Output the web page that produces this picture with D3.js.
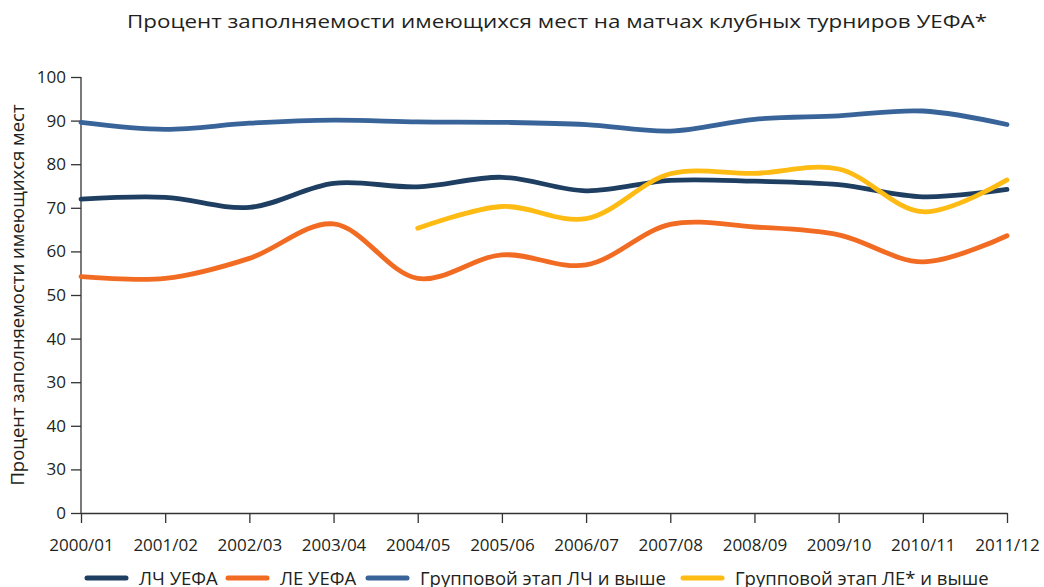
<!DOCTYPE html>
<html><head><meta charset="utf-8">
<script src="https://cdn.jsdelivr.net/npm/d3@7"></script>
<style>
html,body{margin:0;padding:0;background:#fff;}
svg{display:block;font-family:"Open Sans","Noto Sans",sans-serif;}
</style></head>
<body><svg id="c" width="1044" height="587"></svg>
<script>
const categories = ["2000/01","2001/02","2002/03","2003/04","2004/05","2005/06","2006/07","2007/08","2008/09","2009/10","2010/11","2011/12"];
const lcUefa   = [72.0, 72.4, 70.1, 75.6, 74.8, 77.0, 73.9, 76.3, 76.1, 75.3, 72.5, 74.2];
const leUefa   = [54.2, 53.8, 58.4, 66.3, 53.8, 59.2, 56.9, 66.2, 65.6, 63.8, 57.6, 63.6];
const lcGroup  = [89.6, 88.0, 89.4, 90.1, 89.7, 89.6, 89.1, 87.6, 90.3, 91.1, 92.2, 89.1];
const leGroup  = [null, null, null, null, 65.3, 70.3, 67.5, 77.8, 77.9, 78.9, 69.1, 76.4];
const yTickValues = [0,10,20,30,40,50,60,70,80,90,100];
const yTickLabels = ["0","30","40","30","40","50","60","70","80","90","100"];
const seriesNames = ["ЛЧ УЕФА","ЛЕ УЕФА","Групповой этап ЛЧ и выше","Групповой этап ЛЕ* и выше"];
const seriesColors = ["#1e3f62","#f26b22","#386499","#fdbb13"];
const titleText = "Процент заполняемости имеющихся мест на матчах клубных турниров УЕФА*";
const yTitle = "Процент заполняемости имеющихся мест";

const seriesData = [lcUefa, leUefa, lcGroup, leGroup];
const svg = d3.select("#c");
const x = d3.scalePoint().domain(categories).range([81, 1007]);
const y = d3.scaleLinear().domain([0,100]).range([513, 77]);
const txt = "#231f20";

svg.append("text").attr("x", 557).attr("y", 28).attr("text-anchor","middle")
  .attr("font-size", 18.5).attr("fill", txt).attr("textLength", 860).attr("lengthAdjust","spacingAndGlyphs")
  .text(titleText);

svg.append("text").attr("transform","translate(24,295) rotate(-90)").attr("text-anchor","middle")
  .attr("font-size", 18.5).attr("fill", txt).text(yTitle);

const yAxis = svg.append("g").attr("transform","translate(81,0)")
  .call(d3.axisLeft(y).tickValues(yTickValues).tickSize(10).tickPadding(5)
    .tickFormat((d,i)=>yTickLabels[i]));
const xAxis = svg.append("g").attr("transform","translate(0,513)")
  .call(d3.axisBottom(x).tickSize(10).tickPadding(16).tickSizeOuter(0));
[yAxis, xAxis].forEach(g=>{
  g.select(".domain").attr("stroke","#333").attr("stroke-width",1.3);
  g.selectAll(".tick line").attr("stroke","#333").attr("stroke-width",1.3);
  g.selectAll(".tick text").attr("font-size",17).attr("fill",txt).attr("font-family","'Open Sans','Noto Sans',sans-serif");
});
yAxis.select(".domain").attr("d","M0,"+y(100)+"V"+y(0));

const line = d3.line()
  .defined(d=>d.v!=null)
  .x(d=>x(d.c)).y(d=>y(d.v))
  .curve(d3.curveCatmullRom.alpha(0.5));

const order = [2,1,0,3];
order.forEach(si=>{
  const pts = categories.map((c,i)=>({c, v: seriesData[si][i]}));
  svg.append("path").attr("d", line(pts)).attr("fill","none")
    .attr("stroke", seriesColors[si]).attr("stroke-width",4.8)
    .attr("stroke-linecap","round").attr("stroke-linejoin","round");
});

const legendX = [87, 228, 368, 683];
const lg = svg.append("g");
seriesNames.forEach((n,i)=>{
  lg.append("line").attr("x1",legendX[i]).attr("x2",legendX[i]+39).attr("y1",578).attr("y2",578)
    .attr("stroke",seriesColors[i]).attr("stroke-width",5).attr("stroke-linecap","round");
  lg.append("text").attr("x",legendX[i]+52).attr("y",585).attr("font-size",18.5).attr("fill",txt).text(n);
});
</script></body></html>
